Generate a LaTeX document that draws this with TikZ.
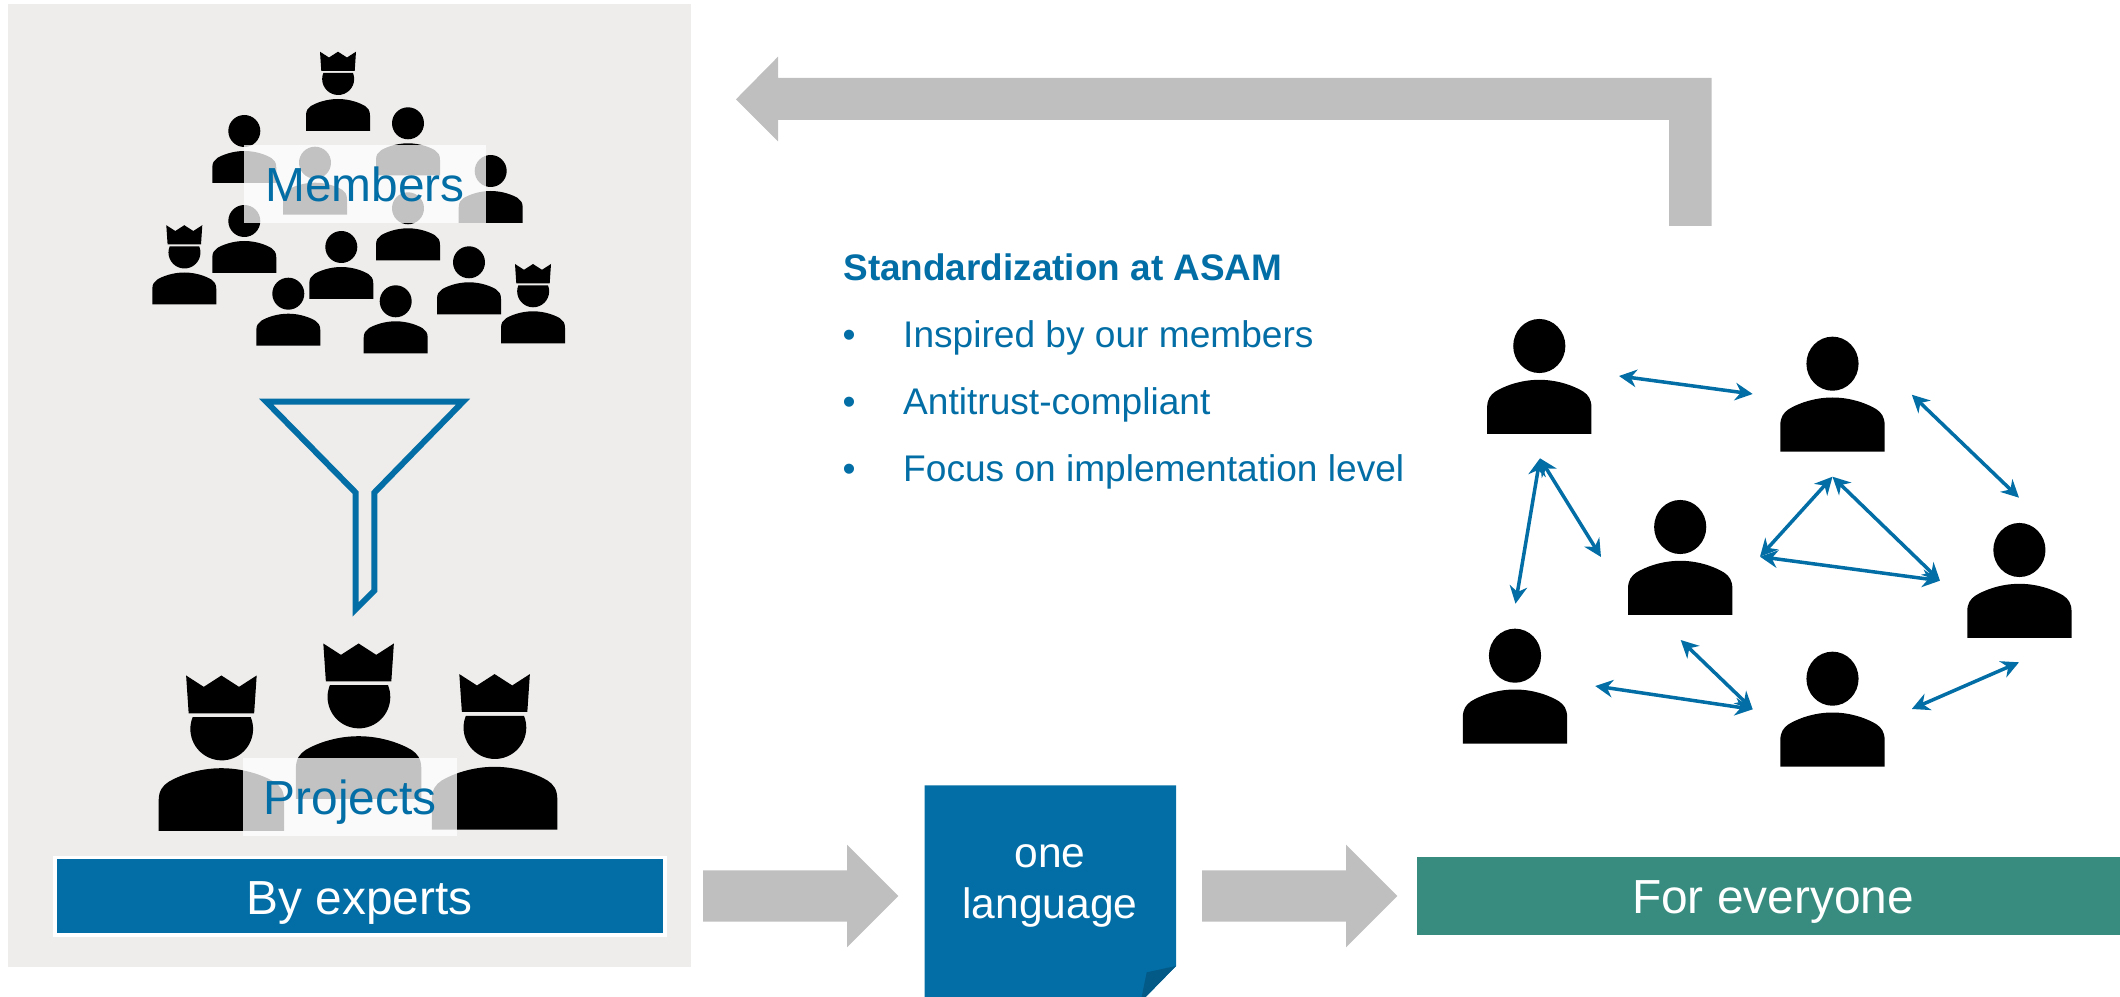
\documentclass[tikz,border=0pt]{standalone}
\usepackage{fontspec}
\setmainfont{Liberation Sans}
\usetikzlibrary{arrows.meta}
\definecolor{asam_blue}{HTML}{036EA5}
\definecolor{asam_dark}{HTML}{045A87}
\definecolor{asam_teal}{HTML}{378C7F}
\definecolor{panel_grey}{HTML}{EEEDEB}
\definecolor{arrow_grey}{HTML}{BFBFBF}

\begin{document}
\begin{tikzpicture}[x=0.01cm,y=-0.01cm,
	person/.pic={
		\fill (0,0) circle [radius=16];
		\fill (-32,52) -- (-32,36.5) .. controls (-32,31.5) and (-30,29) .. (-27,27) .. controls (-22,24) and (-12,20) .. (0,20) .. controls (12,20) and (22,24) .. (27,27) .. controls (30,29) and (32,31.5) .. (32,36.5) -- (32,52) -- cycle;
	},
	king/.pic={
		\fill (15,-6) arc [start angle=-22, end angle=202, radius=16] -- cycle;
		\fill (-32,52) -- (-32,36.5) .. controls (-32,31.5) and (-30,29) .. (-27,27) .. controls (-22,24) and (-12,20) .. (0,20) .. controls (12,20) and (22,24) .. (27,27) .. controls (30,29) and (32,31.5) .. (32,36.5) -- (32,52) -- cycle;
		\fill (-16.7,-8) -- (-18,-27.3) -- (-9,-21.5) -- (0,-27.3) -- (9,-21.5) -- (18,-27.3) -- (16.7,-8) -- cycle;
	},
	label_box/.style={rectangle,fill=white,fill opacity=0.76,text opacity=1,text=asam_blue,inner sep=0pt,minimum height=0.777cm,text height=10.6pt,text depth=0.5pt,font=\fontsize{13.6}{14.7}\selectfont},
	bar_box/.style={rectangle,text=white,inner sep=0pt,text height=10.8pt,text depth=0.6pt,font=\fontsize{13.6}{14.7}\selectfont},
	list_text/.style={anchor=base west,inner sep=0pt,text=asam_blue,font=\fontsize{10.55}{12}\selectfont},
	grey_arrow/.style={fill=arrow_grey},
	link/.style={<->,>={Stealth[length=5pt,width=5pt]},draw=asam_blue,line width=1pt}]
	\useasboundingbox (0,0) rectangle (2120,997);
	\fill[panel_grey] (8,4) rectangle (691,967);

	\pic (k1) at (338,79) {king};
	\pic (m1) at (244.3,131) {person};
	\pic (m2) at (408,123.3) {person};
	\pic (m3) at (315,162.7) {person};
	\pic (m4) at (490.7,171) {person};
	\pic (m5) at (244.3,221) {person};
	\pic (k2) at (184.3,252.5) {king};
	\pic (m6) at (408,208.3) {person};
	\pic (m7) at (341.3,247) {person};
	\pic (m8) at (288.3,293.7) {person};
	\pic (m9) at (395.7,301.3) {person};
	\pic (m10) at (469,262.3) {person};
	\pic (k3) at (533,291.3) {king};
	\node[label_box,minimum width=2.41cm] (members) at (365,183.9) {Members};

	\draw[draw=asam_blue,line width=1.7pt,miter limit=20] (266.3,401.7) -- (463,401.7) -- (374.3,492.7) -- (374.3,590.7) -- (355.7,609.3) -- (355.7,492.7) -- cycle;

	\pic[scale=1.96] (k4) at (221.4,729) {king};
	\pic[scale=1.96] (k5) at (358.6,697) {king};
	\pic[scale=1.96] (k6) at (494.6,727.6) {king};
	\node[label_box,minimum width=2.14cm] (projects) at (350,796.9) {Projects};

	\node[bar_box,fill=asam_blue,draw=white,line width=1pt,minimum width=6.097cm,minimum height=0.775cm] (experts) at (359.8,896.4) {By experts};
	\node[bar_box,fill=asam_teal,minimum width=7.12cm,minimum height=0.78cm] (everyone) at (1773,896) {For everyone};

	\fill[grey_arrow] (703,870.3) -- (847,870.3) -- (847,844.7) -- (898.3,896) -- (847,947.3) -- (847,921.7) -- (703,921.7) -- cycle;
	\fill[grey_arrow] (1202,870.3) -- (1346,870.3) -- (1346,844.7) -- (1397.3,896) -- (1346,947.3) -- (1346,921.7) -- (1202,921.7) -- cycle;
	\fill[grey_arrow] (736,99.3) -- (778,56.7) -- (778,78) -- (1711.6,78) -- (1711.6,226) -- (1669,226) -- (1669,120) -- (778,120) -- (778,141.3) -- cycle;

	\fill[asam_blue] (924.7,785.3) -- (1176,785.3) -- (1176,966) -- (1145.7,997) -- (924.7,997) -- cycle;
	\fill[asam_dark] (1146.7,972.3) -- (1176,966) -- (1145.7,997) -- (1141.7,997) -- cycle;
	\node[inner sep=0pt,text=white,align=center,font=\fontsize{12.1}{14.7}\selectfont] (language) at (1050,886) {one\\language};

	\node[list_text,font=\fontsize{10.5}{12}\selectfont\bfseries] (title) at (842.7,280.7) {Standardization at ASAM};
	\node[list_text] (b1) at (842,347.3) {•};
	\node[list_text] (b2) at (842,414.3) {•};
	\node[list_text] (b3) at (842,481.7) {•};
	\node[list_text] (t1) at (902.5,347.3) {Inspired by our members};
	\node[list_text] (t2) at (902.5,414.3) {Antitrust-compliant};
	\node[list_text] (t3) at (902.5,481.7) {Focus on implementation level};

	\pic[xscale=1.63,yscale=1.69] (n1) at (1539.3,346) {person};
	\pic[xscale=1.63,yscale=1.69] (n2) at (1832.5,363.7) {person};
	\pic[xscale=1.63,yscale=1.69] (n3) at (1680.2,527) {person};
	\pic[xscale=1.63,yscale=1.69] (n4) at (2019.4,550) {person};
	\pic[xscale=1.63,yscale=1.69] (n5) at (1515,655.7) {person};
	\pic[xscale=1.63,yscale=1.69] (n6) at (1832.5,678.7) {person};

	\coordinate (a1) at (1619,376);
	\coordinate (a2) at (1752.7,394);
	\coordinate (b1e) at (1911.8,394.7);
	\coordinate (b2e) at (2019,497.7);
	\coordinate (c1) at (1540,458.3);
	\coordinate (c2) at (1515.5,603.7);
	\coordinate (c3) at (1601,557);
	\coordinate (d1) at (1832.5,476.7);
	\coordinate (d2) at (1760,556.7);
	\coordinate (d3) at (1940,580.7);
	\coordinate (e1) at (1680.7,640);
	\coordinate (e2) at (1752.7,709.3);
	\coordinate (e3) at (1595.2,686);
	\coordinate (f1) at (1911.8,709);
	\coordinate (f2) at (2019,662.3);
	\draw[link] (a1) -- (a2);
	\draw[link] (b1e) -- (b2e);
	\draw[link] (c1) -- (c2);
	\draw[link] (c1) -- (c3);
	\draw[link] (d1) -- (d2);
	\draw[link] (d1) -- (d3);
	\draw[link] (d2) -- (d3);
	\draw[link] (e1) -- (e2);
	\draw[link] (e3) -- (e2);
	\draw[link] (f1) -- (f2);
\end{tikzpicture}
\end{document}
